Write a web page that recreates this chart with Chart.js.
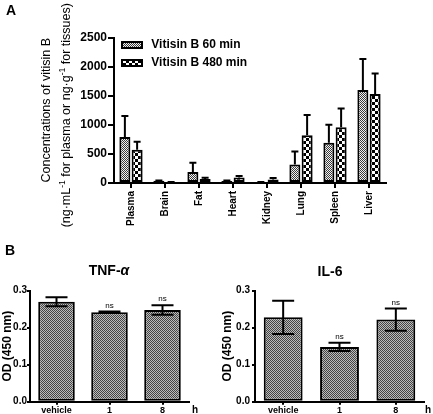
<!DOCTYPE html>
<html><head><meta charset="utf-8">
<script src="https://cdn.jsdelivr.net/npm/chart.js@4.4.1/dist/chart.umd.min.js"></script>
<style>
html,body{margin:0;padding:0;background:#fff;}
body{position:relative;width:433px;height:414px;overflow:hidden;font-family:'Liberation Sans',Arial,sans-serif;}
canvas{position:absolute;}
.t{position:absolute;font-weight:bold;color:#000;white-space:nowrap;}
</style></head><body>
<canvas id="cA" width="433" height="240" style="left:0;top:0"></canvas>
<canvas id="cT" width="220" height="174" style="left:0;top:240px"></canvas>
<canvas id="cI" width="213" height="174" style="left:220px;top:240px"></canvas>
<div class="t" style="left:6px;top:3px;font-size:14px;line-height:14px">A</div>
<div class="t" style="left:5px;top:243px;font-size:14px;line-height:14px">B</div>
<div class="t" style="left:59px;top:263px;width:100px;text-align:center;font-size:14px;line-height:14px">TNF-<i>α</i></div>
<div class="t" style="left:280px;top:264px;width:100px;text-align:center;font-size:14px;line-height:14px">IL-6</div>
<div class="t" style="left:192px;top:405px;font-size:10px;line-height:10px">h</div>
<div class="t" style="left:425px;top:405px;font-size:10px;line-height:10px">h</div>
<script>
// ---- data ----
const organs = ['Plasma', 'Brain', 'Fat', 'Heart', 'Kidney', 'Lung', 'Spleen', 'Liver'];
const conc60 = [790, 40, 190, 35, 12, 320, 690, 1600];
const err60 = [360, 5, 160, 10, 5, 220, 310, 530];
const conc480 = [570, 12, 70, 95, 60, 820, 960, 1530];
const err480 = [140, 5, 20, 25, 25, 350, 320, 350];
const seriesNames = ['Vitisin B 60 min', 'Vitisin B 480 min'];
const concTicks = [0, 500, 1000, 1500, 2000, 2500];
const concTitle1 = [['Concentrations of vitisin B', false]];
const concTitle2 = [['(ng·mL', false], ['-1', true], [' for plasma or ng·g', false], ['-1', true], [' for tissues)', false]];

const timeLabels = ['vehicle', '1', '8'];
const tnfOD = [0.270, 0.242, 0.248];
const tnfErr = [0.012, 0.002, 0.013];
const il6OD = [0.228, 0.148, 0.222];
const il6Err = [0.045, 0.011, 0.030];
const sigMarks = ['', 'ns', 'ns'];
const odTicks = [0, 0.1, 0.2, 0.3];

// ---- styles ----
const FAM = "'Liberation Sans', Arial, sans-serif";
Chart.defaults.font.family = FAM;
Chart.defaults.color = '#000';

function checker(cell, c1, c2) {
  const cv = document.createElement('canvas');
  cv.width = cv.height = cell * 2;
  const g = cv.getContext('2d');
  g.fillStyle = c2; g.fillRect(0, 0, cell * 2, cell * 2);
  g.fillStyle = c1; g.fillRect(0, 0, cell, cell); g.fillRect(cell, cell, cell, cell);
  return g.createPattern(cv, 'repeat');
}
const pat60 = checker(1, '#3a3a3a', '#f2f2f2');
const pat480 = checker(3, '#000000', '#ffffff');
const patB = checker(1, '#444444', '#bcbcbc');

const errorBars = {
  id: 'errorBars',
  afterDatasetsDraw(chart, args, o) {
    const ctx = chart.ctx, ys = chart.scales.y;
    ctx.save();
    ctx.strokeStyle = '#000'; ctx.lineWidth = 2;
    chart.data.datasets.forEach((ds, di) => {
      const meta = chart.getDatasetMeta(di);
      meta.data.forEach((bar, i) => {
        const v = ds.data[i], e = ds.errors[i];
        const yt = ys.getPixelForValue(v + e);
        const yb = o.both ? ys.getPixelForValue(v - e) : bar.y;
        const x = bar.x;
        ctx.beginPath();
        ctx.moveTo(x, yb); ctx.lineTo(x, yt);
        ctx.moveTo(x - o.cap, yt); ctx.lineTo(x + o.cap, yt);
        if (o.both) { ctx.moveTo(x - o.cap, yb); ctx.lineTo(x + o.cap, yb); }
        ctx.stroke();
        if (ds.marks && ds.marks[i]) {
          ctx.fillStyle = '#000';
          ctx.font = '8px ' + FAM;
          ctx.textAlign = 'center'; ctx.textBaseline = 'bottom';
          ctx.fillText(ds.marks[i], x, yt - 2);
        }
      });
    });
    ctx.restore();
  }
};

const legendPlace = {
  id: 'legendPlace',
  afterLayout(chart, args, o) {
    const lg = chart.legend, ca = chart.chartArea;
    if (!lg) return;
    lg.left = ca.left + o.dx; lg.top = ca.top + o.dy;
    lg.right = ca.right; lg.bottom = ca.bottom;
  }
};

// rotated axis title with superscripts
const richYTitle = {
  id: 'richYTitle',
  afterDraw(chart, args, o) {
    const ctx = chart.ctx, ca = chart.chartArea;
    const mid = (ca.top + ca.bottom) / 2;
    ctx.save();
    ctx.fillStyle = '#000';
    ctx.textBaseline = 'middle'; ctx.textAlign = 'left';
    o.lines.forEach((segs, li) => {
      const fMain = o.size + 'px ' + FAM, fSup = o.supSize + 'px ' + FAM;
      let total = 0;
      segs.forEach(([t, sup]) => { ctx.font = sup ? fSup : fMain; total += ctx.measureText(t).width; });
      ctx.save();
      ctx.translate(o.x[li], mid + o.dy[li]);
      ctx.rotate(-Math.PI / 2);
      let x = -total / 2;
      segs.forEach(([t, sup]) => {
        ctx.font = sup ? fSup : fMain;
        ctx.fillText(t, x, sup ? -o.raise : 0);
        x += ctx.measureText(t).width;
      });
      ctx.restore();
    });
    ctx.restore();
  }
};

function axisStyle(tickLen) {
  return {
    grid: { drawOnChartArea: false, drawTicks: true, tickLength: tickLen, lineWidth: 2, color: '#000', offset: false },
    border: { display: true, color: '#000', width: 2 }
  };
}

// ---- Panel A ----
new Chart(document.getElementById('cA'), {
  type: 'bar',
  data: {
    labels: organs,
    datasets: [
      { label: seriesNames[0], data: conc60, errors: err60, backgroundColor: pat60, borderColor: '#000', borderWidth: 2, borderSkipped: false },
      { label: seriesNames[1], data: conc480, errors: err480, backgroundColor: pat480, borderColor: '#000', borderWidth: 2, borderSkipped: false }
    ]
  },
  plugins: [errorBars, legendPlace, richYTitle],
  options: {
    responsive: false, animation: false, devicePixelRatio: 1,
    layout: { padding: { left: 0, right: 47, top: 37.5, bottom: 0 } },
    datasets: { bar: { categoryPercentage: 0.72, barPercentage: 0.9 } },
    plugins: {
      tooltip: { enabled: false },
      errorBars: { cap: 3.5, both: false },
      legendPlace: { dx: 2, dy: -4.5 },
      richYTitle: { lines: [concTitle1, concTitle2], x: [46.5, 67], dy: [0, 5], size: 12.5, supSize: 8.5, raise: 4.5 },
      legend: {
        position: 'chartArea', align: 'start',
        labels: {
          boxWidth: 20, boxHeight: 6, padding: 6, color: '#000',
          font: { size: 12, weight: 'bold' },
          generateLabels: (chart) => Chart.defaults.plugins.legend.labels.generateLabels(chart).map(l => Object.assign(l, { text: ' ' + l.text }))
        }
      }
    },
    scales: {
      x: Object.assign(axisStyle(5), {
        ticks: { autoSkip: false, minRotation: 90, maxRotation: 90, padding: 3, color: '#000', font: { size: 10, weight: 'bold' } },
        afterFit: (s) => { s.height = 57; }
      }),
      y: Object.assign(axisStyle(6), {
        min: 0, max: 2500,
        afterBuildTicks: (s) => { s.ticks = concTicks.map(v => ({ value: v })); },
        ticks: { padding: 1, color: '#000', font: { size: 12, weight: 'bold' }, callback: (v) => String(v) },
        title: { display: false },
        afterFit: (s) => { s.width = 114; }
      })
    }
  }
});

// ---- Panel B ----
function odChart(id, values, errs, padRight, yWidth, titlePad, tickPad) {
  return new Chart(document.getElementById(id), {
    type: 'bar',
    data: {
      labels: timeLabels,
      datasets: [{ data: values, errors: errs, marks: sigMarks, backgroundColor: patB, borderColor: '#000', borderWidth: 2, borderSkipped: false }]
    },
    plugins: [errorBars],
    options: {
      responsive: false, animation: false, devicePixelRatio: 1,
      layout: { padding: { left: 0, right: padRight, top: 50.7, bottom: 0 } },
      datasets: { bar: { categoryPercentage: 0.69, barPercentage: 1.0 } },
      plugins: { legend: { display: false }, tooltip: { enabled: false }, errorBars: { cap: 11, both: true } },
      scales: {
        x: Object.assign(axisStyle(3), {
          ticks: { padding: 0, color: '#000', font: { size: 9, weight: 'bold' } },
          afterFit: (s) => { s.height = 12.3; }
        }),
        y: Object.assign(axisStyle(3), {
          min: 0, max: 0.3,
          afterBuildTicks: (s) => { s.ticks = odTicks.map(v => ({ value: v })); },
          ticks: { padding: tickPad, color: '#000', font: { size: 10, weight: 'bold' }, callback: (v) => Number(v).toFixed(1) },
          title: { display: true, text: 'OD (450 nm)', color: '#000', font: { size: 12, weight: 'bold', lineHeight: 1.2 }, padding: { top: titlePad, bottom: 0 } },
          afterFit: (s) => { s.width = yWidth; }
        })
      }
    }
  });
}
odChart('cT', tnfOD, tnfErr, 31, 30, 0.3, 0);
odChart('cI', il6OD, il6Err, 9, 35, 0.8, 2);
</script>
</body></html>
